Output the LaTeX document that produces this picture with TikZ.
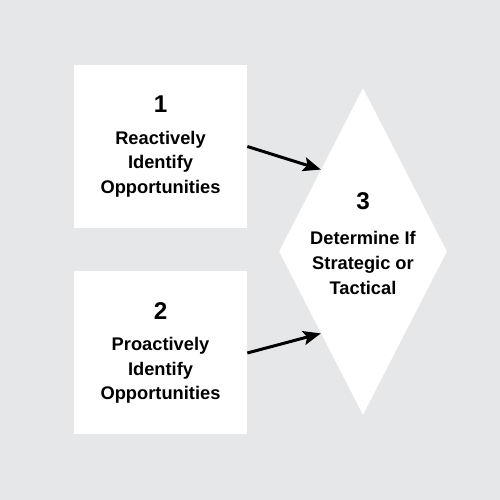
\documentclass[tikz,border=0pt]{standalone}
\usepackage{fontspec}
\setmainfont{Liberation Sans}
\usetikzlibrary{shapes.geometric,arrows.meta}
\definecolor{bggray}{RGB}{230,231,232}
\tikzset{
  textfont/.style={font=\bfseries\fontsize{10.4}{14}\selectfont},
  stepbox/.style={textfont,fill=white,minimum width=3.46cm,minimum height=3.26cm,inner sep=0pt,align=center},
  decision/.style={diamond,fill=white,aspect=0.5,inner sep=0pt,minimum width=3.36cm,minimum height=6.54cm},
  flow/.style={line width=1.7pt,-{Stealth[length=10pt,width=8pt,inset=2pt]}}
}
\newcommand{\stepnum}[1]{{\fontsize{13.8}{16}\selectfont #1}}
\begin{document}
\begin{tikzpicture}
\def\bx{3.21}
\def\dx{7.26}
\def\dy{4.97}

\fill[bggray] (0,0) rectangle (10,10);

\node[stepbox] (react) at (\bx,7.07) {\stepnum{1}\\[4pt]Reactively\\Identify\\Opportunities};
\node[stepbox] (proact) at (\bx,2.94) {\stepnum{2}\\[4pt]Proactively\\Identify\\Opportunities};

\node[decision] (decide) at (\dx,\dy) {};
\node[textfont,align=center] (decidetext) at ([yshift=0.16cm]decide.center) {\stepnum{3}\\[6pt]Determine If\\Strategic or\\Tactical};

\draw[flow] (react.east) -- (decide.north west);
\draw[flow] (proact.east) -- (decide.south west);
\end{tikzpicture}
\end{document}
